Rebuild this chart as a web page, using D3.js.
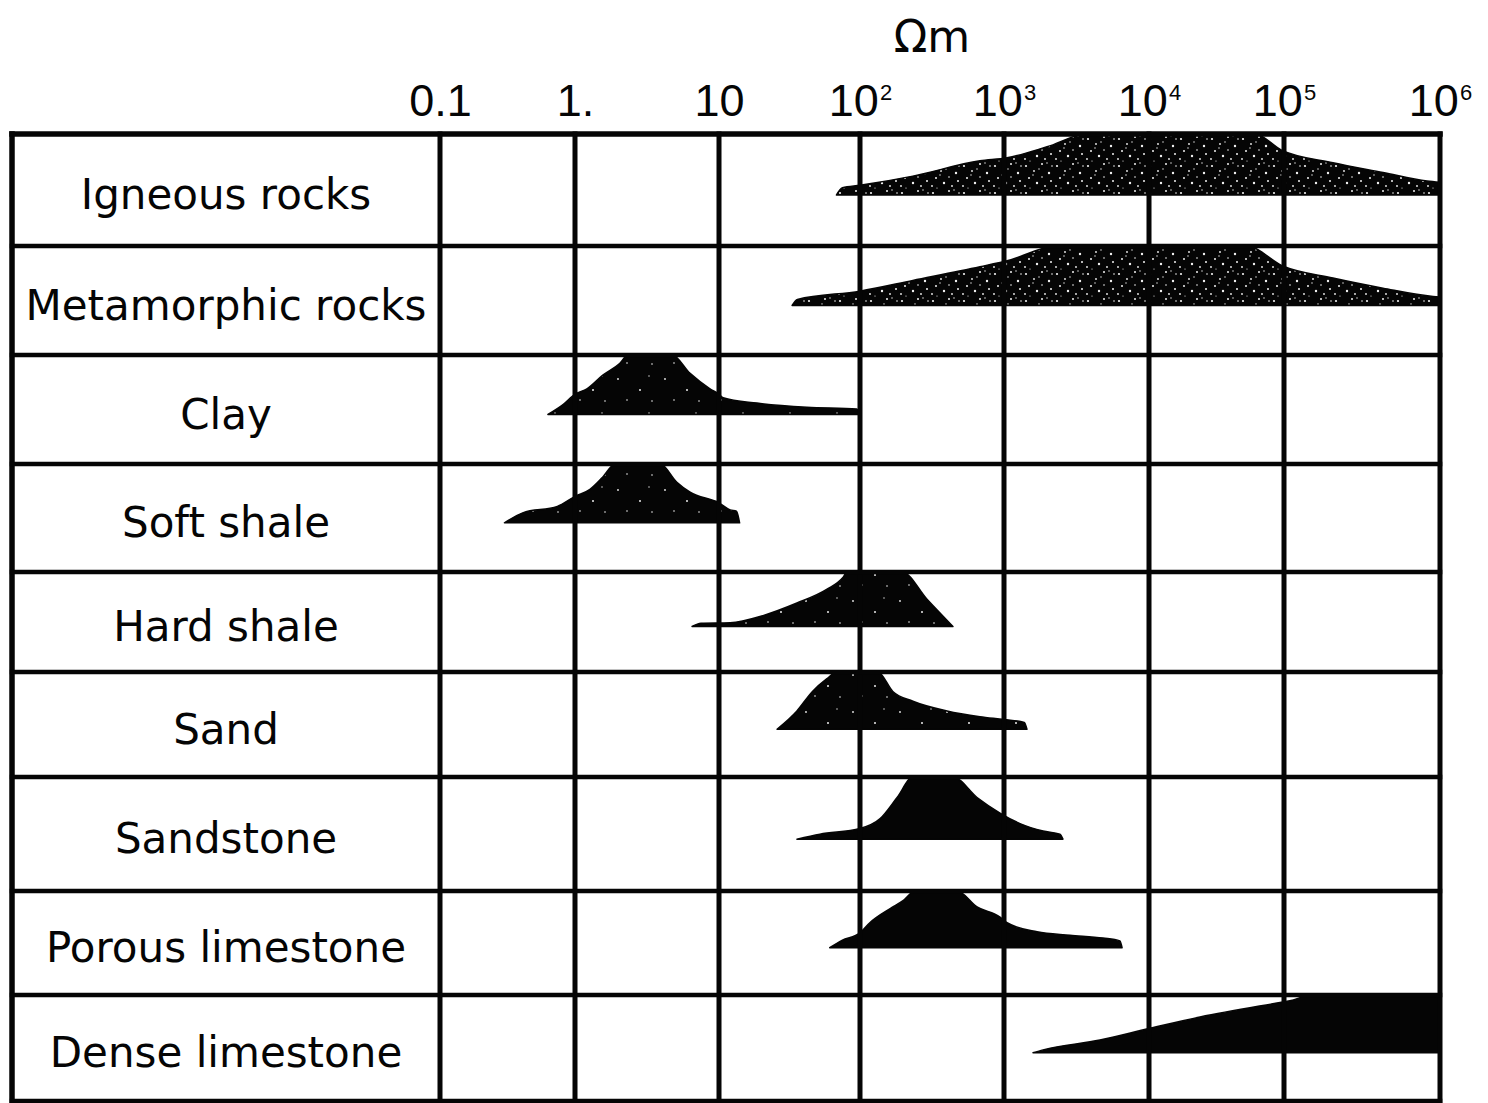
<!DOCTYPE html>
<html>
<head>
<meta charset="utf-8">
<script src="https://cdn.jsdelivr.net/npm/d3@7"></script>
<style>
  html, body { margin: 0; padding: 0; background: #fff; }
  svg { display: block; }
</style>
</head>
<body>
<svg id="chart" width="1488" height="1103"></svg>
<script>
// ---------------- data ----------------
const categories = [
  "Igneous rocks", "Metamorphic rocks", "Clay", "Soft shale", "Hard shale",
  "Sand", "Sandstone", "Porous limestone", "Dense limestone"
];
const tickValues = [0.1, 1, 10, 100, 1e3, 1e4, 1e5, 1e6];
const tickBase   = ["0.1", "1.", "10", "10", "10", "10", "10", "10"];
const tickExp    = ["", "", "", "2", "3", "4", "5", "6"];
const unitLabel  = "Ωm";

// resistivity profiles (Ωm) and relative level of the envelope (0 = base, 1 = peak)
const igneousOhmM     = [68, 75, 100, 233, 681, 1050, 1980, 3735, 61000, 95000, 206000, 431000, 826000, 1e6];
const igneousLevel    = [0, 0.12, 0.16, 0.31, 0.56, 0.61, 0.79, 1, 1, 0.74, 0.53, 0.37, 0.23, 0.21];
const metamorphicOhmM = [33, 36, 100, 233, 681, 1050, 2320, 53200, 96600, 206000, 431000, 902000, 1e6];
const metamorphicLevel= [0, 0.1, 0.24, 0.42, 0.65, 0.75, 1, 1, 0.67, 0.46, 0.29, 0.15, 0.14];
const clayOhmM        = [0.63, 0.82, 1, 1.21, 1.56, 2.05, 2.33, 4.72, 6.3, 8.66, 10, 10.7, 18.6, 42, 95, 100];
const clayLevel       = [0, 0.17, 0.34, 0.43, 0.66, 0.86, 1, 1, 0.69, 0.43, 0.34, 0.28, 0.19, 0.12, 0.09, 0];
const softShaleOhmM   = [0.30, 0.41, 0.74, 1, 1.27, 1.56, 1.90, 3.9, 5.1, 6.3, 10, 12, 13.3, 14];
const softShaleLevel  = [0, 0.17, 0.28, 0.45, 0.57, 0.78, 1, 1, 0.69, 0.52, 0.34, 0.22, 0.2, 0];
const hardShaleOhmM   = [6.5, 7.5, 12, 20.5, 35.7, 58, 75.7, 81, 196, 292, 442];
const hardShaleLevel  = [0, 0.06, 0.07, 0.2, 0.43, 0.68, 0.9, 1, 1, 0.5, 0];
const sandOhmM        = [25.8, 35.7, 46, 58, 68.7, 133, 169, 233, 402, 681, 1000, 1380, 1440];
const sandLevel       = [0, 0.32, 0.66, 0.88, 1, 1, 0.66, 0.49, 0.32, 0.22, 0.17, 0.12, 0];
const sandstoneOhmM   = [35.7, 52, 100, 138, 181, 233, 442, 650, 938, 1290, 1860, 2430, 2550];
const sandstoneLevel  = [0, 0.08, 0.17, 0.33, 0.67, 1, 1, 0.67, 0.42, 0.25, 0.13, 0.08, 0];
const porousLimeOhmM  = [61, 74.5, 100, 117, 162, 199, 241, 472, 650, 938, 1050, 1690, 2850, 4820, 6300, 6520];
const porousLimeLevel = [0, 0.13, 0.26, 0.44, 0.69, 0.83, 1, 1, 0.72, 0.54, 0.44, 0.28, 0.22, 0.17, 0.12, 0];
const denseLimeOhmM   = [1585, 1860, 4590, 10000, 23900, 93300, 109000, 151000, 1e6];
const denseLimeLevel  = [0, 0.05, 0.22, 0.42, 0.62, 0.87, 0.9, 1, 1];

const profiles = [
  { values: igneousOhmM,     levels: igneousLevel,     texture: "stipple" },
  { values: metamorphicOhmM, levels: metamorphicLevel, texture: "stipple" },
  { values: clayOhmM,        levels: clayLevel,        texture: "speckle" },
  { values: softShaleOhmM,   levels: softShaleLevel,   texture: "speckle" },
  { values: hardShaleOhmM,   levels: hardShaleLevel,   texture: "speckle" },
  { values: sandOhmM,        levels: sandLevel,        texture: "speckle" },
  { values: sandstoneOhmM,   levels: sandstoneLevel,   texture: "solid" },
  { values: porousLimeOhmM,  levels: porousLimeLevel,  texture: "solid" },
  { values: denseLimeOhmM,   levels: denseLimeLevel,   texture: "solid" }
];

// ---------------- scales ----------------
const svg = d3.select("#chart");
const INK = "#050505";
const frameLeft = 12;

// hand-ruled grid of the original: polylinear log scale through each decade line
const x = d3.scaleLog()
  .domain(tickValues)
  .range([440, 575, 719, 860, 1004, 1149, 1284, 1440]);

const rowEdge = d3.scaleLinear()
  .domain(d3.range(categories.length + 1))
  .range([134, 246, 355, 464, 572, 672, 777, 891, 995, 1101]);

// ---------------- textures ----------------
const defs = svg.append("defs");
const stip = defs.append("pattern").attr("id", "stipple")
  .attr("patternUnits", "userSpaceOnUse").attr("width", 31).attr("height", 27);
stip.append("rect").attr("width", 31).attr("height", 27).attr("fill", INK);
[[3,4,1.1],[11,9,0.9],[19,2,1],[26,11,1.2],[29,4,0.8],[6,16,1],[14,21,1.2],
 [22,24,0.9],[28,19,1],[2,24,0.9],[10,13,0.7],[19,15,0.8],[16,7,0.7],[24,1,0.7],[7,26,0.6]]
  .forEach(([cx, cy, r]) => stip.append("circle").attr("cx", cx).attr("cy", cy).attr("r", r).attr("fill", "#f2f2f2"));

const spk = defs.append("pattern").attr("id", "speckle")
  .attr("patternUnits", "userSpaceOnUse").attr("width", 47).attr("height", 37);
spk.append("rect").attr("width", 47).attr("height", 37).attr("fill", INK);
[[7,9,0.9],[29,20,1],[41,31,0.8],[16,30,0.8],[38,6,0.7]]
  .forEach(([cx, cy, r]) => spk.append("circle").attr("cx", cx).attr("cy", cy).attr("r", r).attr("fill", "#ececec"));

const fillFor = t => t === "solid" ? INK : `url(#${t})`;

// ---------------- unit title ----------------
svg.append("text")
  .attr("x", (x.range()[0] + x.range()[x.range().length - 1]) / 2 - 8)
  .attr("y", 52)
  .attr("text-anchor", "middle")
  .attr("font-family", "DejaVu Sans, sans-serif")
  .attr("font-size", 44)
  .attr("fill", INK)
  .text(unitLabel);

// ---------------- top axis labels ----------------
const axis = svg.append("g").attr("transform", "translate(0,116)")
  .call(d3.axisTop(x).tickValues(tickValues).tickSize(0).tickPadding(0).tickFormat(() => ""));
axis.select(".domain").remove();
axis.selectAll(".tick text").each(function (d, i) {
  const t = d3.select(this)
    .attr("y", 0).attr("dy", null)
    .attr("font-family", "Liberation Sans, Arial, sans-serif")
    .attr("font-size", 45)
    .attr("fill", INK)
    .attr("text-anchor", "middle")
    .text(null);
  t.append("tspan").text(tickBase[i]);
  if (tickExp[i]) {
    t.append("tspan").attr("dx", 1).attr("dy", -16).attr("font-size", 22).text(tickExp[i]);
  }
});

// ---------------- envelopes ----------------
const shapes = svg.append("g");
profiles.forEach((p, i) => {
  const top = rowEdge(i), bot = rowEdge(i + 1);
  const H = 0.545 * (bot - top);
  const lv = d3.scaleLinear().domain([0, 1]).range([top + H, top]);
  const pts = p.values.map((v, j) => ({ v, l: p.levels[j] }));
  const area = d3.area()
    .x(d => x(d.v))
    .y0(lv(0))
    .y1(d => lv(d.l))
    .curve(d3.curveMonotoneX);
  shapes.append("path")
    .attr("d", area(pts))
    .attr("fill", fillFor(p.texture))
    .attr("stroke", INK)
    .attr("stroke-width", 1.5)
    .attr("stroke-linejoin", "round");
});

// ---------------- grid / frame ----------------
const grid = svg.append("g").attr("stroke", INK).attr("stroke-linecap", "square");
const yTop = rowEdge(0), yBot = rowEdge(categories.length);
grid.selectAll("line.v").data(tickValues).join("line")
  .attr("class", "v")
  .attr("x1", d => x(d)).attr("x2", d => x(d))
  .attr("y1", yTop).attr("y2", yBot)
  .attr("stroke-width", 5);
grid.append("line")
  .attr("x1", frameLeft).attr("x2", frameLeft)
  .attr("y1", yTop).attr("y2", yBot)
  .attr("stroke-width", 5.5);
grid.selectAll("line.h").data(d3.range(categories.length + 1)).join("line")
  .attr("class", "h")
  .attr("x1", frameLeft).attr("x2", x(tickValues[tickValues.length - 1]))
  .attr("y1", d => rowEdge(d)).attr("y2", d => rowEdge(d))
  .attr("stroke-width", d => (d === 0 ? 5.5 : 4.5));

// ---------------- row labels ----------------
const labelX = (frameLeft + x(tickValues[0])) / 2;
svg.append("g").selectAll("text").data(categories).join("text")
  .attr("x", labelX)
  .attr("y", (d, i) => (rowEdge(i) + rowEdge(i + 1)) / 2 + 19)
  .attr("text-anchor", "middle")
  .attr("font-family", "DejaVu Sans, sans-serif")
  .attr("font-size", 42)
  .attr("fill", INK)
  .text(d => d);
</script>
</body>
</html>
